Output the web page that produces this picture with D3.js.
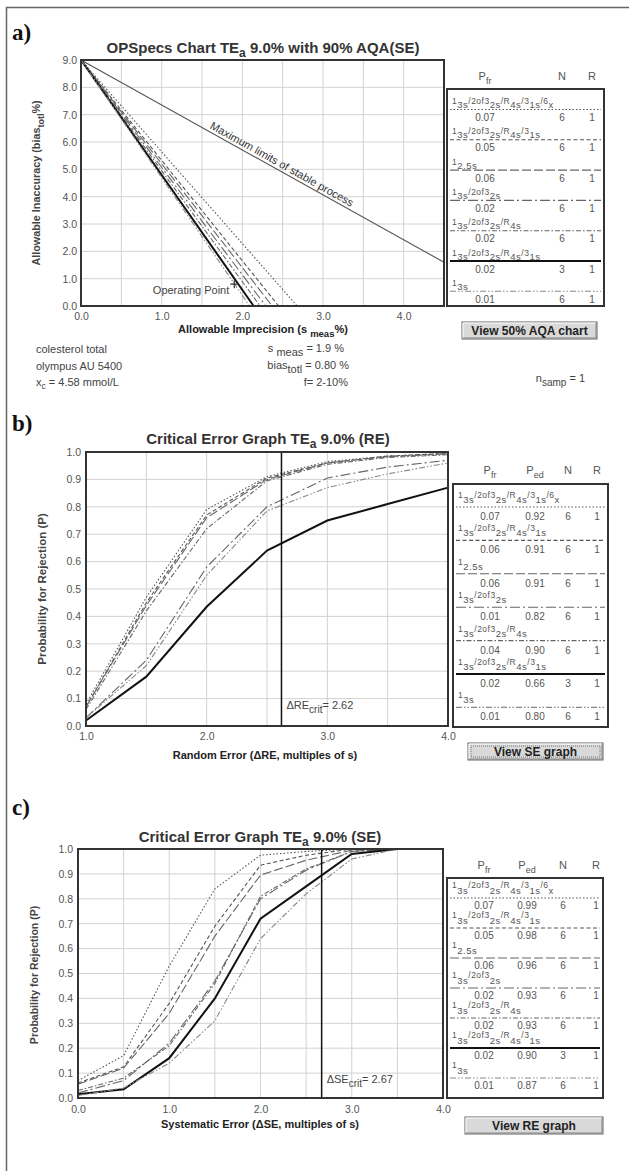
<!DOCTYPE html>
<html>
<head>
<meta charset="utf-8">
<script src="https://cdn.jsdelivr.net/npm/d3@7"></script>
<style>
  body { margin: 0; background: #fff; }
  text { font-family: "Liberation Sans", Arial, sans-serif; }
</style>
</head>
<body>
<svg id="chart" width="629" height="1171"></svg>
<script>
// ---------- data ----------
// rule labels: [text, 0 = normal / 1 = subscript]
const ruleLabels = [
  [["1",0],["3s",1],["/2of3",0],["2s",1],["/R",0],["4s",1],["/3",0],["1s",1],["/6",0],["x",1]],
  [["1",0],["3s",1],["/2of3",0],["2s",1],["/R",0],["4s",1],["/3",0],["1s",1]],
  [["1",0],["2.5s",1]],
  [["1",0],["3s",1],["/2of3",0],["2s",1]],
  [["1",0],["3s",1],["/2of3",0],["2s",1],["/R",0],["4s",1]],
  [["1",0],["3s",1],["/2of3",0],["2s",1],["/R",0],["4s",1],["/3",0],["1s",1]],
  [["1",0],["3s",1]]
];
const nRuns = [6, 6, 6, 6, 6, 3, 6];
const rRuns = [1, 1, 1, 1, 1, 1, 1];

const pfrA = [0.07, 0.05, 0.06, 0.02, 0.02, 0.02, 0.01];
const pfrB = [0.07, 0.06, 0.06, 0.01, 0.04, 0.02, 0.01];
const pedB = [0.92, 0.91, 0.91, 0.82, 0.90, 0.66, 0.80];
const pfrC = [0.07, 0.05, 0.06, 0.02, 0.02, 0.02, 0.01];
const pedC = [0.99, 0.98, 0.96, 0.93, 0.93, 0.90, 0.87];

// OPSpecs (panel a)
const teA = 9.0;
const opspecsZero = [2.68, 2.45, 2.37, 2.29, 2.22, 2.14, 2.09]; // s where allowable bias hits 0
const stableX = [0, 4.5];
const stableY = [9.0, 1.6];
const opPoint = [1.9, 0.8];

// critical error graph, random error (panel b)
const reSteps = [1.0, 1.5, 2.0, 2.5, 3.0, 3.5, 4.0];
const reCurves = [
  [0.08, 0.47, 0.79, 0.910, 0.965, 0.985, 0.995],
  [0.07, 0.45, 0.77, 0.905, 0.960, 0.985, 0.995],
  [0.07, 0.44, 0.76, 0.900, 0.960, 0.983, 0.993],
  [0.03, 0.24, 0.58, 0.800, 0.905, 0.945, 0.970],
  [0.06, 0.42, 0.72, 0.895, 0.955, 0.980, 0.990],
  [0.02, 0.18, 0.435, 0.640, 0.750, 0.810, 0.870],
  [0.03, 0.22, 0.55, 0.785, 0.870, 0.920, 0.960]
];
const reCrit = 2.62;

// critical error graph, systematic error (panel c)
const seSteps = [0, 0.5, 1.0, 1.5, 2.0, 2.5, 3.0, 3.5, 4.0];
const seCurves = [
  [0.070, 0.170, 0.53, 0.84, 0.975, 0.990, 1.000, 1.0, 1.0],
  [0.060, 0.125, 0.38, 0.69, 0.935, 0.975, 1.000, 1.0, 1.0],
  [0.055, 0.120, 0.34, 0.65, 0.895, 0.955, 0.995, 1.0, 1.0],
  [0.020, 0.070, 0.22, 0.47, 0.800, 0.915, 0.990, 1.0, 1.0],
  [0.030, 0.080, 0.21, 0.46, 0.810, 0.920, 0.990, 1.0, 1.0],
  [0.015, 0.035, 0.16, 0.40, 0.720, 0.850, 0.980, 1.0, 1.0],
  [0.010, 0.040, 0.14, 0.31, 0.640, 0.820, 0.960, 1.0, 1.0]
];
const seCrit = 2.67;

const ticksA_x = [0, 1, 2, 3, 4];
const ticksA_y = [0, 1, 2, 3, 4, 5, 6, 7, 8, 9];
const ticksB_x = [1, 2, 3, 4];
const ticksC_x = [0, 1, 2, 3, 4];
const ticksP_y = [0, 0.1, 0.2, 0.3, 0.4, 0.5, 0.6, 0.7, 0.8, 0.9, 1.0];

// ---------- styles ----------
const lineStyles = [
  { dash: "1.5,2",           w: 1.1, c: "#555" },
  { dash: "4,2.5",           w: 1.1, c: "#555" },
  { dash: "9,3",             w: 1.1, c: "#666" },
  { dash: "10,3,2,3",        w: 1.1, c: "#666" },
  { dash: "5,2,1.5,2",       w: 1.1, c: "#666" },
  { dash: null,              w: 2,   c: "#111" },
  { dash: "6,2,1.5,2,1.5,2", w: 1.1, c: "#888" }
];
const fmt1 = d3.format(".1f");
const fmt2 = d3.format(".2f");

const svg = d3.select("#chart");

svg.append("path")
  .attr("d", "M6.5,1171V7.5H629")
  .attr("fill", "none").attr("stroke", "#666").attr("stroke-width", 1.5);

// text made of normal + lowered pieces
function rich(sel, parts, subSize, drop, mainSize) {
  const d = drop || 3;
  let cur = 0;
  parts.forEach(([t, lvl]) => {
    const target = lvl ? d : 0;
    const ts = sel.append("tspan").attr("dy", target - cur).text(t);
    if (lvl && subSize) ts.attr("font-size", subSize);
    if (!lvl && mainSize) ts.attr("font-size", mainSize);
    cur = target;
  });
  return sel;
}

function styleLine(sel, s) {
  return sel.attr("fill", "none")
    .attr("stroke", s.c)
    .attr("stroke-width", s.w)
    .attr("stroke-dasharray", s.dash);
}

function drawPanel(p) {
  const g = svg.append("g");
  const { x, y } = p;
  const [x0, x1] = x.range();
  const [y0, y1] = y.range();

  g.append("g").selectAll("line").data(p.vgrid).join("line")
    .attr("x1", d => x(d)).attr("x2", d => x(d))
    .attr("y1", y1).attr("y2", y0)
    .attr("stroke", "#d2d2d2");
  g.append("g").selectAll("line").data(p.hgrid).join("line")
    .attr("x1", x0).attr("x2", x1)
    .attr("y1", d => y(d)).attr("y2", d => y(d))
    .attr("stroke", "#d2d2d2");

  const xAxisG = g.append("g")
    .attr("transform", `translate(0,${y0})`)
    .call(d3.axisBottom(x).tickValues(p.xticks).tickFormat(fmt1).tickSize(0).tickPadding(p.xpad))
    .attr("font-size", 10.5);
  xAxisG.select(".domain").remove();
  xAxisG.selectAll("text").attr("fill", "#555");

  const yAxisG = g.append("g")
    .attr("transform", `translate(${x0},0)`)
    .call(d3.axisLeft(y).tickValues(p.yticks).tickFormat(fmt1).tickSize(0).tickPadding(p.ypad))
    .attr("font-size", 10.5);
  yAxisG.select(".domain").remove();
  yAxisG.selectAll("text").attr("fill", "#555");

  // panel letter
  svg.append("text")
    .attr("x", 12).attr("y", p.letterY)
    .style("font-family", "'Liberation Serif', 'Times New Roman', serif")
    .attr("font-weight", "bold").attr("font-size", 23)
    .attr("fill", "#111")
    .text(p.letter);

  // title
  rich(svg.append("text")
    .attr("x", p.titleX).attr("y", p.titleY)
    .attr("text-anchor", "middle")
    .attr("font-weight", "bold").attr("font-size", 15)
    .attr("fill", "#333"), p.title, 12, 4);

  // axis titles
  rich(svg.append("text")
    .attr("x", p.xTitleX).attr("y", p.xTitleY)
    .attr("text-anchor", "middle")
    .attr("font-weight", "bold").attr("font-size", 11)
    .attr("fill", "#222"), p.xTitle, 9.5, 4);
  rich(svg.append("text")
    .attr("transform", `translate(${p.yTitleX},${p.yTitleY}) rotate(-90)`)
    .attr("text-anchor", "middle")
    .attr("font-weight", "bold").attr("font-size", p.yTitleSize)
    .attr("fill", "#444"), p.yTitle, 9, 4);

  const plot = g.append("g");

  g.append("rect")
    .attr("x", x0).attr("y", y1)
    .attr("width", x1 - x0).attr("height", y0 - y1)
    .attr("fill", "none").attr("stroke", "#333").attr("stroke-width", 2);

  return plot;
}

function drawLegend(L, pfr, ped) {
  const g = svg.append("g");
  g.append("rect")
    .attr("x", L.x).attr("y", L.y).attr("width", L.w).attr("height", L.h)
    .attr("fill", "none").attr("stroke", "#333").attr("stroke-width", 2);

  const heads = [
    { x: L.cols[0], parts: [["P", 0], ["fr", 1]] },
    ...(ped ? [{ x: L.cols[1], parts: [["P", 0], ["ed", 1]] }] : []),
    { x: L.cols[ped ? 2 : 1], parts: [["N", 0]] },
    { x: L.cols[ped ? 3 : 2], parts: [["R", 0]] }
  ];
  heads.forEach(h => {
    rich(g.append("text")
      .attr("x", h.x).attr("y", L.headY)
      .attr("text-anchor", "middle")
      .attr("font-size", 11).attr("fill", "#555"), h.parts, 9, 4);
  });

  ruleLabels.forEach((parts, i) => {
    const base = i * L.pitch;
    styleLine(g.append("line")
      .attr("x1", L.x + 3).attr("x2", L.x + L.w - 3)
      .attr("y1", L.lineY + base).attr("y2", L.lineY + base), lineStyles[i]);
    rich(g.append("text")
      .attr("x", L.x + 5).attr("y", L.labelY + base)
      .attr("letter-spacing", 0.5)
      .attr("fill", "#555"), parts, 9.5, L.drop, 8.5);

    const vals = ped
      ? [fmt2(pfr[i]), fmt2(ped[i]), nRuns[i], rRuns[i]]
      : [fmt2(pfr[i]), nRuns[i], rRuns[i]];
    vals.forEach((v, j) => {
      g.append("text")
        .attr("x", L.cols[j]).attr("y", L.valY + base)
        .attr("text-anchor", "middle")
        .attr("font-size", 10).attr("fill", "#555")
        .text(v);
    });
  });
}

function drawButton(x, y, w, h, label, focused) {
  const g = svg.append("g");
  g.append("rect").attr("x", x).attr("y", y).attr("width", w).attr("height", h)
    .attr("fill", "#d9d9d9").attr("stroke", "#666").attr("stroke-width", 1);
  g.append("path").attr("d", `M${x + 1},${y + h - 1}V${y + 1}H${x + w - 1}`)
    .attr("fill", "none").attr("stroke", "#fff");
  g.append("path").attr("d", `M${x + 1},${y + h - 1}H${x + w - 1}V${y + 1}`)
    .attr("fill", "none").attr("stroke", "#888");
  if (focused) {
    g.append("rect").attr("x", x + 3).attr("y", y + 3).attr("width", w - 6).attr("height", h - 6)
      .attr("fill", "none").attr("stroke", "#777").attr("stroke-dasharray", "1,1");
  }
  g.append("text").attr("x", x + w / 2).attr("y", y + h / 2 + 4.5)
    .attr("text-anchor", "middle").attr("font-weight", "bold").attr("font-size", 12)
    .attr("fill", "#222").text(label);
}

// ---------- panel a: OPSpecs ----------
{
  const x = d3.scaleLinear().domain([0, 4.5]).range([81, 444]);
  const y = d3.scaleLinear().domain([0, 9]).range([306, 60]);
  const plot = drawPanel({
    x, y,
    vgrid: d3.range(0.5, 4.5, 0.5), hgrid: d3.range(1, 9, 1),
    xticks: ticksA_x, yticks: ticksA_y, xpad: 7, ypad: 4,
    letter: "a)", letterY: 40,
    title: [["OPSpecs Chart TE", 0], ["a", 1], [" 9.0% with 90% AQA(SE)", 0]],
    titleX: 263, titleY: 53,
    xTitle: [["Allowable Imprecision (s ", 0], ["meas", 1], ["%)", 0]],
    xTitleX: 263, xTitleY: 333,
    yTitle: [["Allowable Inaccuracy (bias", 0], ["totl", 1], ["%)", 0]],
    yTitleX: 40, yTitleY: 183, yTitleSize: 10.8
  });

  const line = d3.line().x(d => x(d[0])).y(d => y(d[1]));

  // max limits of stable process
  plot.append("path")
    .datum(stableX.map((v, i) => [v, stableY[i]]))
    .attr("d", line)
    .attr("fill", "none").attr("stroke", "#555").attr("stroke-width", 1.1);
  const sMid = 2.45;
  const bMid = d3.interpolateNumber(stableY[0], stableY[1])((sMid - stableX[0]) / (stableX[1] - stableX[0]));
  const ang = Math.atan2(y(stableY[1]) - y(stableY[0]), x(stableX[1]) - x(stableX[0])) * 180 / Math.PI;
  plot.append("text")
    .attr("transform", `translate(${x(sMid)},${y(bMid)}) rotate(${ang})`)
    .attr("dy", -3)
    .attr("text-anchor", "middle").attr("font-size", 11).attr("fill", "#333")
    .text("Maximum limits of stable process");

  // operating specification lines
  opspecsZero.forEach((z, i) => {
    styleLine(plot.append("path")
      .datum([[0, teA], [z, 0]])
      .attr("d", line), lineStyles[i]);
  });

  // operating point
  const ox = x(opPoint[0]), oy = y(opPoint[1]);
  plot.append("path")
    .attr("d", `M${ox - 4},${oy}H${ox + 4}M${ox},${oy - 4}V${oy + 4}`)
    .attr("stroke", "#333").attr("stroke-width", 1.2);
  plot.append("text")
    .attr("x", ox - 5).attr("y", oy + 10)
    .attr("text-anchor", "end").attr("font-size", 11).attr("fill", "#444")
    .text("Operating Point");

  drawLegend({
    x: 447, y: 89, w: 157, h: 217,
    headY: 80, cols: [485, 562, 592],
    labelY: 104, drop: 4, lineY: 109.5, valY: 121, pitch: 30.3
  }, pfrA, null);

  drawButton(462, 322, 135, 17, "View 50% AQA chart", false);

  // method info
  const info = svg.append("g").attr("font-size", 11).attr("fill", "#444");
  info.append("text").attr("x", 36).attr("y", 353).text("colesterol total");
  info.append("text").attr("x", 36).attr("y", 370).text("olympus AU 5400");
  rich(info.append("text").attr("x", 36).attr("y", 386),
    [["x", 0], ["c", 1], [" = 4.58 mmol/L", 0]], 8.5);

  rich(info.append("text").attr("x", 344).attr("y", 352).attr("text-anchor", "end"),
    [["s ", 0], ["meas", 1], [" = 1.9 %", 0]], 11, 4);
  rich(info.append("text").attr("x", 349).attr("y", 369).attr("text-anchor", "end"),
    [["bias", 0], ["totl", 1], [" = 0.80 %", 0]], 11, 4);
  info.append("text").attr("x", 348).attr("y", 386).attr("text-anchor", "end").text("f= 2-10%");
  rich(info.append("text").attr("x", 585).attr("y", 382).attr("text-anchor", "end"),
    [["n", 0], ["samp", 1], [" = 1", 0]], 10, 4);
}

// ---------- panel b: critical error graph (RE) ----------
{
  const x = d3.scaleLinear().domain([1, 4]).range([86, 448]);
  const y = d3.scaleLinear().domain([0, 1]).range([726, 452]);
  const plot = drawPanel({
    x, y,
    vgrid: d3.range(1.5, 4, 0.5), hgrid: d3.range(0.1, 0.95, 0.1),
    xticks: ticksB_x, yticks: ticksP_y, xpad: 7, ypad: 5,
    letter: "b)", letterY: 431,
    title: [["Critical Error Graph TE", 0], ["a", 1], [" 9.0% (RE)", 0]],
    titleX: 268, titleY: 444,
    xTitle: [["Random Error (\u0394RE, multiples of s)", 0]],
    xTitleX: 265, xTitleY: 759,
    yTitle: [["Probability for Rejection (P)", 0]],
    yTitleX: 46, yTitleY: 589, yTitleSize: 11.5
  });

  const line = d3.line().x((d, i) => x(reSteps[i])).y(d => y(d));
  reCurves.forEach((c, i) => {
    styleLine(plot.append("path").datum(c).attr("d", line), lineStyles[i]);
  });

  plot.append("line")
    .attr("x1", x(reCrit)).attr("x2", x(reCrit))
    .attr("y1", y(0)).attr("y2", y(1))
    .attr("stroke", "#111").attr("stroke-width", 1.5);
  rich(plot.append("text")
    .attr("x", x(reCrit) + 5).attr("y", 709)
    .attr("font-size", 11).attr("fill", "#444"),
    [["\u0394RE", 0], ["crit", 1], ["= 2.62", 0]], 10, 4);

  drawLegend({
    x: 453, y: 484, w: 155, h: 243,
    headY: 474, cols: [490, 535, 568, 597],
    labelY: 498, drop: 5, lineY: 507, valY: 520, pitch: 33.4
  }, pfrB, pedB);

  drawButton(468, 743, 135, 17, "View SE graph", true);
}

// ---------- panel c: critical error graph (SE) ----------
{
  const x = d3.scaleLinear().domain([0, 4]).range([78, 443]);
  const y = d3.scaleLinear().domain([0, 1]).range([1098, 849]);
  const plot = drawPanel({
    x, y,
    vgrid: d3.range(0.5, 4, 0.5), hgrid: d3.range(0.1, 0.95, 0.1),
    xticks: ticksC_x, yticks: ticksP_y, xpad: 8, ypad: 5,
    letter: "c)", letterY: 815,
    title: [["Critical Error Graph TE", 0], ["a", 1], [" 9.0% (SE)", 0]],
    titleX: 260, titleY: 842,
    xTitle: [["Systematic Error (\u0394SE, multiples of s)", 0]],
    xTitleX: 260, xTitleY: 1128,
    yTitle: [["Probability for Rejection (P)", 0]],
    yTitleX: 38, yTitleY: 975, yTitleSize: 10.5
  });

  const line = d3.line().x((d, i) => x(seSteps[i])).y(d => y(d));
  seCurves.forEach((c, i) => {
    styleLine(plot.append("path").datum(c).attr("d", line), lineStyles[i]);
  });

  plot.append("line")
    .attr("x1", x(seCrit)).attr("x2", x(seCrit))
    .attr("y1", y(0)).attr("y2", y(1))
    .attr("stroke", "#111").attr("stroke-width", 1.5);
  rich(plot.append("text")
    .attr("x", x(seCrit) + 5).attr("y", 1083)
    .attr("font-size", 11).attr("fill", "#444"),
    [["\u0394SE", 0], ["crit", 1], ["= 2.67", 0]], 10, 4);

  drawLegend({
    x: 447, y: 878, w: 156, h: 220,
    headY: 869, cols: [484, 527, 563, 596],
    labelY: 888, drop: 5.5, lineY: 898, valY: 909, pitch: 30
  }, pfrC, pedC);

  drawButton(465, 1117, 138, 17, "View RE graph", false);
}
</script>
</body>
</html>
